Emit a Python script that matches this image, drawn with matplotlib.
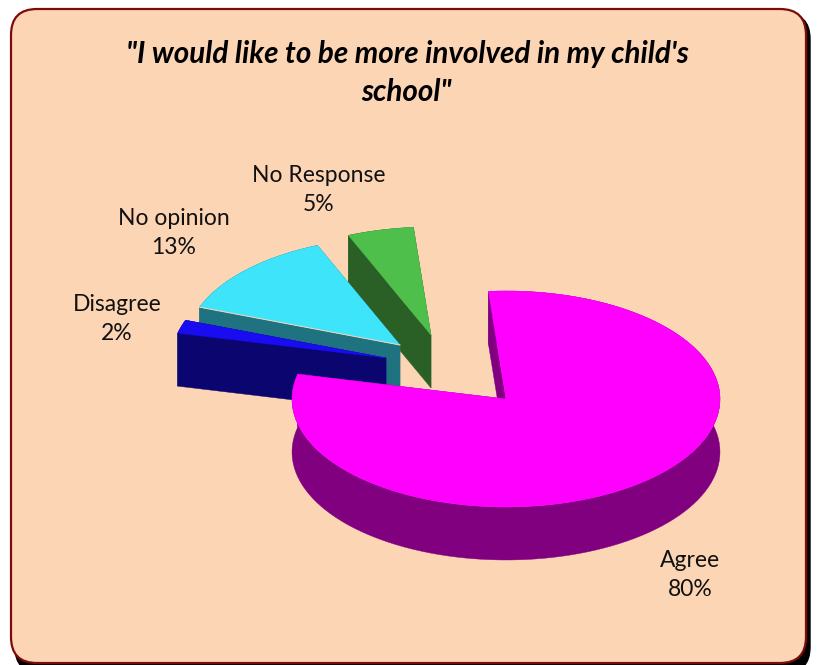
import numpy as np
import matplotlib
matplotlib.use('Agg')
import matplotlib.pyplot as plt
from matplotlib.patches import FancyBboxPatch, Polygon

labels = ['Agree', 'Disagree', 'No opinion', 'No Response']
shares = [80, 2, 13, 5]
top_colors = ['#FF00FF', '#1A0CF0', '#3EE4FA', '#4FBF4C']
side_colors = ['#800080', '#0B0570', '#1F7280', '#2A6025']
apexes = [(506, 399), (386, 358), (400, 345), (431, 335)]
label_xy = [(690, 575), (117, 319), (174, 233), (319, 190)]
title = '"I would like to be more involved in my child\'s\nschool"'

PANEL = '#FCD5B5'
RX, RY = 214, 108
DEPTH = 53
START = -4.7


def outline(cx, cy, a0, a1, n=120):
    # angles run clockwise from twelve o'clock, squashed for the tilted view
    t = np.radians(np.linspace(a0, a1, n))
    return np.column_stack([cx + RX*np.sin(t), cy - RY*np.cos(t)])


def slice3d(ax, apex, a0, a1, top, side, z):
    arc = outline(apex[0], apex[1], a0, a1)
    drop = np.array([0, DEPTH])
    tip = np.array([apex])
    for edge in [np.vstack([tip, arc[:1]]), np.vstack([tip, arc[-1:]]), arc]:
        wall = np.vstack([edge, (edge + drop)[::-1]])
        ax.add_patch(Polygon(wall, closed=True, fc=side, ec=side, lw=0.3, zorder=z))
    ax.add_patch(Polygon(np.vstack([tip, arc]), closed=True, fc=top, ec=top, lw=0.3, zorder=z + 0.5))
    return arc


fig = plt.figure(figsize=(8.17, 6.65), dpi=100)
ax = fig.add_axes([0, 0, 1, 1])
ax.set_xlim(0, 817)
ax.set_ylim(665, 0)
ax.axis('off')

# shadowed rounded panel
box = dict(boxstyle='round,pad=0,rounding_size=26')
ax.add_patch(FancyBboxPatch((15, 13), 795, 660, fc='black', ec='black', lw=1, zorder=1, **box))
ax.add_patch(FancyBboxPatch((11, 9), 795, 654, fc=PANEL, ec='#7F0A0A', lw=1.6, zorder=2, **box))

edges = START + 3.6*np.cumsum([0] + shares)
# back slices first, the big one last
for i in [3, 2, 1, 0]:
    arc = slice3d(ax, apexes[i], edges[i], edges[i + 1], top_colors[i], side_colors[i], 3 + (3 - i))
    if labels[i] == 'No opinion':
        # hairline between the cyan top and its wall
        ax.plot([arc[0, 0], apexes[i][0]], [arc[0, 1], apexes[i][1]], color=PANEL, lw=0.7, zorder=3.9 + 0.7)

ax.text(407, 73, title, ha='center', va='center', fontsize=21.3, family='Lato',
        weight='bold', style='italic', linespacing=1.45, color='black', zorder=10)
for name, val, (x, y) in zip(labels, shares, label_xy):
    ax.text(x, y, f'{name}\n{val}%', ha='center', va='center', fontsize=16.5, family='Lato',
            linespacing=1.42, color='#111111', zorder=10)

fig.savefig('out.png', dpi=100)
